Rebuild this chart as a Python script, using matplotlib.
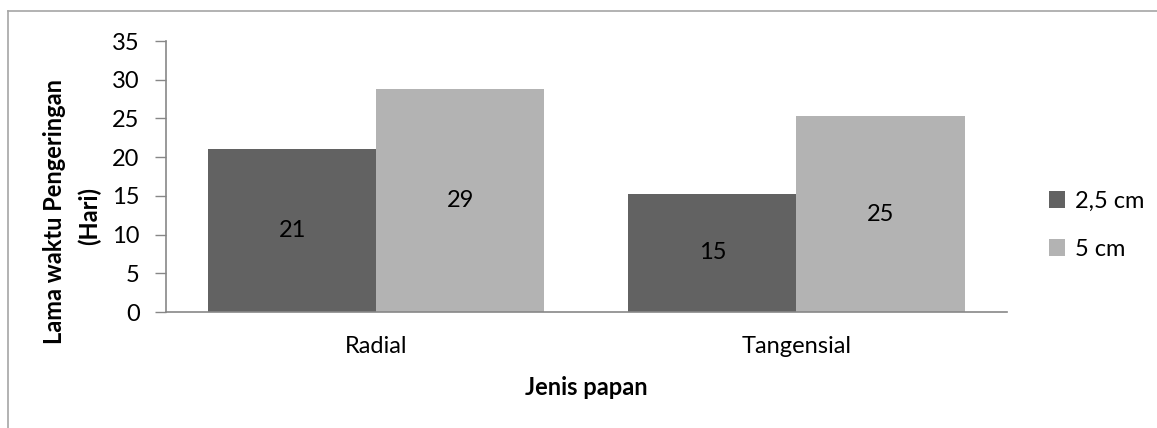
import numpy as np
import matplotlib.pyplot as plt
from matplotlib.lines import Line2D

plt.rcParams['font.family'] = ['Lato', 'DejaVu Sans']

categories = ['Radial', 'Tangensial']
series_names = ['2,5 cm', '5 cm']
val_25 = [21.0, 15.3]
val_5 = [28.8, 25.3]
labels_25 = ['21', '15']
labels_5 = ['29', '25']
colors = ['#626262', '#b3b3b3']

fs = 17

fig = plt.figure(figsize=(11.57, 4.28), dpi=100)
ax = fig.add_axes([0.1435, 0.271, 0.7265, 0.633])

x = np.arange(len(categories))
w = 0.4
b1 = ax.bar(x - w / 2, val_25, w, color=colors[0], label=series_names[0])
b2 = ax.bar(x + w / 2, val_5, w, color=colors[1], label=series_names[1])

for bars, labs in [(b1, labels_25), (b2, labels_5)]:
    for r, t in zip(bars, labs):
        ax.text(r.get_x() + r.get_width() / 2, r.get_height() / 2, t,
                ha='center', va='center', fontsize=fs, color='black')

ax.set_xlim(-0.5, 1.5)
ax.set_ylim(0, 35)
ax.set_yticks(range(0, 36, 5))
ax.set_xticks(x)
ax.set_xticklabels(categories)
ax.tick_params(axis='y', length=8, width=1, color='#878787', labelsize=fs, pad=11)
ax.tick_params(axis='x', length=0, labelsize=fs, pad=17)

for s in ['top', 'right']:
    ax.spines[s].set_visible(False)
for s in ['left', 'bottom']:
    ax.spines[s].set_color('#878787')
    ax.spines[s].set_linewidth(1.2)

# y label, two lines, centred lower than the plot area as in the original
fig.text(0.047, 0.505, 'Lama waktu Pengeringan', rotation=90,
         ha='center', va='center', fontsize=fs, fontweight='bold')
fig.text(0.077, 0.495, '(Hari)', rotation=90,
         ha='center', va='center', fontsize=fs, fontweight='bold')
ax.set_xlabel('Jenis papan', fontsize=fs, fontweight='bold', labelpad=14)

leg = ax.legend(loc='center left', bbox_to_anchor=(1.025, 0.32), frameon=False,
                fontsize=fs, handlelength=0.7, handleheight=0.7,
                handletextpad=0.4, labelspacing=1.15)

# outer chart border (cropped at right and bottom)
fig.add_artist(Line2D([8 / 1157, 8 / 1157], [0, 1 - 11 / 428], color='#a6a6a6', lw=1.2))
fig.add_artist(Line2D([8 / 1157, 1], [1 - 11 / 428, 1 - 11 / 428], color='#a6a6a6', lw=1.2))

fig.savefig('out.png', dpi=100)
